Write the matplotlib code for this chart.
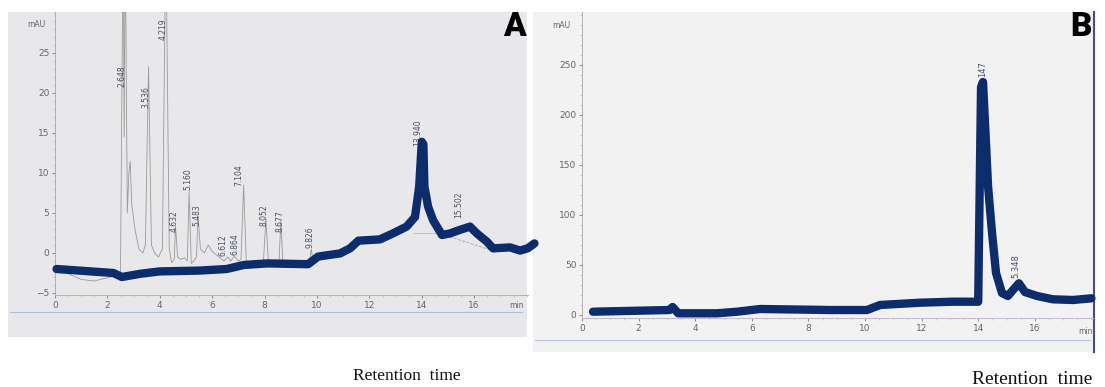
import matplotlib
matplotlib.use("Agg")
import matplotlib.pyplot as plt
from matplotlib.patches import Rectangle
from matplotlib.lines import Line2D

W, H = 1105, 387

# ---------------- data: panel A ----------------
a_gray_t = [0.05, 0.5, 1.0, 1.5, 2.0, 2.35, 2.5, 2.6, 2.64, 2.68, 2.76, 2.82, 2.87, 2.93, 3.05,
            3.2, 3.35, 3.45, 3.57, 3.68, 3.8, 3.95, 4.1, 4.23, 4.36, 4.45, 4.55, 4.6, 4.68, 4.8,
            4.95, 5.05, 5.12, 5.2, 5.3, 5.4, 5.46, 5.55, 5.7, 5.85, 6.0, 6.15, 6.3, 6.45, 6.6,
            6.7, 6.85, 7.0, 7.1, 7.2, 7.3, 7.45, 7.7, 7.95, 8.05, 8.15, 8.4, 8.55, 8.62, 8.7,
            9.0, 9.4, 9.7, 9.78, 9.86, 10.1]
a_gray_v = [-1.8, -2.6, -3.3, -3.5, -3.1, -2.8, -2.4, 40, 14.5, 40, 5, 10, 11.5, 6, 3,
            0.5, 0, 1, 23.3, 1, 0, -0.5, 0.5, 40, 0.5, -1.2, -0.8, 3.3, -0.5, -0.8,
            -0.6, -1.0, 7.7, -1.3, -1.0, -0.5, 4.6, 0.5, 0, 1.0, 0.2, -0.2, -0.6, -1.0, -0.5,
            -1.0, -0.4, -1.0, -0.8, 8.5, -1.0, -1.1, -1.3, -1.3, 4.2, -1.3, -1.2, -1.2, 4.0, -1.2,
            -1.3, -1.4, -1.4, 0.5, -1.3, -0.8]

a_blue_t = [0.06, 2.23, 2.55, 3.25, 4.0, 5.5, 6.55, 7.2, 8.1, 9.66, 10.04, 10.88, 11.26, 11.58,
            12.4, 12.9, 13.42, 13.74, 13.9, 14.0, 14.06, 14.1, 14.24, 14.43, 14.77, 15.08,
            15.46, 15.84, 16.1, 16.49, 16.72, 17.37, 17.75, 18.05, 18.3]
a_blue_v = [-2.0, -2.5, -3.0, -2.6, -2.3, -2.2, -2.0, -1.5, -1.3, -1.4, -0.45, -0.05, 0.58, 1.54,
            1.7, 2.45, 3.3, 4.5, 8.3, 13.9, 13.6, 8.3, 5.8, 4.1, 2.25, 2.45,
            2.9, 3.3, 2.45, 1.4, 0.58, 0.7, 0.3, 0.6, 1.2]

a_peak_rt = [2.648, 3.536, 4.219, 4.632, 5.160, 5.483, 6.612, 6.864, 7.104, 8.052, 8.677, 9.826, 13.940, 15.502]
a_peak_lab = ["2.648", "3.536", "4.219", "4.632", "5.160", "5.483", "6.612", "6.864", "7.104",
              "8.052", "8.677", "9.826", "13.940", "15.502"]
a_lab_y = [20.75, 18.1, 26.6, 2.6, 7.9, 3.4, -0.4, -0.25, 8.4, 3.4, 2.6, 0.6, 13.4, 4.4]

a_yticks = [-5, 0, 5, 10, 15, 20, 25]
a_xticks = [0, 2, 4, 6, 8, 10, 12, 14, 16]

# ---------------- data: panel B ----------------
b_blue_t = [0.39, 3.1, 3.2, 3.4, 4.77, 5.48, 6.29, 8.76, 10.07, 10.53, 11.94, 13.1, 14.0, 14.1,
            14.17, 14.27, 14.35, 14.49, 14.63, 14.84, 15.05, 15.23, 15.44, 15.65, 16.08, 16.64,
            17.35, 18.0]
b_blue_v = [3.3, 5, 8, 1.7, 1.7, 3.3, 6, 5, 5, 10, 12.3, 13.3, 13.3, 228,
            233, 175, 128, 82, 42, 22, 19, 25, 31.7, 23, 19, 15.7,
            15, 16.7]
b_peak_rt = [14.147, 15.348]
b_peak_lab = ["147", "5.348"]
b_lab_y = [238, 37]

b_yticks = [0, 50, 100, 150, 200, 250]
b_xticks = [0, 2, 4, 6, 8, 10, 12, 14, 16]

NAVY = "#0d2c6c"
TICKC = "#666666"

fig = plt.figure(figsize=(W / 100, H / 100), dpi=100)
fig.patch.set_facecolor("white")


def fx(px):
    return px / W


def fy(py):
    return 1 - py / H


def px_axes(l, t, r, b):
    return fig.add_axes([fx(l), fy(b), (r - l) / W, (b - t) / H])


# scanned panel backgrounds
fig.patches.append(Rectangle((fx(8), fy(337)), (527 - 8) / W, (337 - 12) / H,
                             transform=fig.transFigure, facecolor="#e8e8eb", edgecolor="none", zorder=-10))
fig.patches.append(Rectangle((fx(533), fy(352)), (1093 - 533) / W, (352 - 12) / H,
                             transform=fig.transFigure, facecolor="#f2f2f2", edgecolor="none", zorder=-10))
fig.lines.append(Line2D([fx(1094), fx(1094)], [fy(12), fy(352)], transform=fig.transFigure,
                        color="#4b4a8f", lw=1.5, zorder=-5))
fig.lines.append(Line2D([fx(10), fx(522)], [fy(312), fy(312)], transform=fig.transFigure,
                        color="#a9bfdc", lw=0.8, zorder=-5))
fig.lines.append(Line2D([fx(535), fx(1090)], [fy(340), fy(340)], transform=fig.transFigure,
                        color="#b9c3da", lw=0.8, zorder=-5))


def style_axes(ax, xticks, yticks, bottom_color):
    ax.set_facecolor("none")
    for s in ("top", "right"):
        ax.spines[s].set_visible(False)
    ax.spines["left"].set_color("#b0b0b0")
    ax.spines["left"].set_linewidth(0.7)
    ax.spines["bottom"].set_color(bottom_color)
    ax.spines["bottom"].set_linewidth(0.8)
    ax.set_xticks(xticks)
    ax.set_yticks(yticks)
    ax.tick_params(axis="both", labelsize=6.5, colors=TICKC, length=2, width=0.5, pad=2)
    ax.minorticks_on()
    ax.tick_params(which="minor", length=1.2, width=0.4, colors="#aaaaaa")


# ---------------- panel A ----------------
axA = px_axes(55, 12, 528, 295)
axA.set_xlim(0, (528 - 55) / 26.2)
axA.set_ylim(-5.25, (253 - 12) / 8)
style_axes(axA, a_xticks, a_yticks, "#e2a0a0")
axA.plot(a_gray_t, a_gray_v, color="#9a9a9a", lw=0.6, zorder=2)
axA.plot([13.7, 14.9], [2.5, 2.5], color="#d8a8b8", lw=0.6, zorder=2)
axA.plot([14.9, 16.8], [2.2, 0.2], color="#a0a0a0", lw=0.6, ls="--", zorder=2)
a_dx = [-0.08] * len(a_peak_rt)
a_dx[6] = -0.2
a_dx[7] = 0.02
for rt, lab, yy, dx in zip(a_peak_rt, a_peak_lab, a_lab_y, a_dx):
    axA.text(rt + dx, yy, lab, rotation=90, ha="center", va="bottom", fontsize=5.5,
             color="#4a5060", zorder=3)
axA.plot(a_blue_t, a_blue_v, color=NAVY, lw=6, solid_capstyle="round",
         solid_joinstyle="round", clip_on=False, zorder=5)
axA.text(-0.35, 28.6, "mAU", fontsize=5.5, color=TICKC, ha="right", va="center")
axA.text(17.6, -6.5, "min", fontsize=5.5, color=TICKC, ha="center", va="center", clip_on=False)
fig.text(fx(514), fy(27), "A", fontsize=24, fontweight="black", family=["Roboto", "DejaVu Sans"],
         ha="center", va="center", color="black")

# ---------------- panel B ----------------
axB = px_axes(582, 12, 1093, 318)
axB.set_xlim(0, (1093 - 582) / 28.3)
axB.set_ylim(-3, 303)
style_axes(axB, b_xticks, b_yticks, "#c8b8d8")
for rt, lab, yy in zip(b_peak_rt, b_peak_lab, b_lab_y):
    axB.text(rt, yy, lab, rotation=90, ha="center", va="bottom", fontsize=6,
             color="#4a5060", zorder=3)
axB.plot(b_blue_t, b_blue_v, color=NAVY, lw=6, solid_capstyle="round",
         solid_joinstyle="round", clip_on=False, zorder=5)
axB.text(-0.4, 290, "mAU", fontsize=5.5, color=TICKC, ha="right", va="center")
axB.text(17.8, -17, "min", fontsize=5.5, color=TICKC, ha="center", va="center")
fig.text(fx(1081), fy(27), "B", fontsize=24, fontweight="black", family=["Roboto", "DejaVu Sans"],
         ha="center", va="center", color="black")

# axis titles
fig.text(fx(407), fy(376), "Retention  time", fontsize=12.5, family="Liberation Serif",
         ha="center", va="center", color="#111111")
fig.text(fx(1032), fy(379), "Retention  time", fontsize=14, family="Liberation Serif",
         ha="center", va="center", color="#111111")

fig.savefig("out.png", dpi=100)
